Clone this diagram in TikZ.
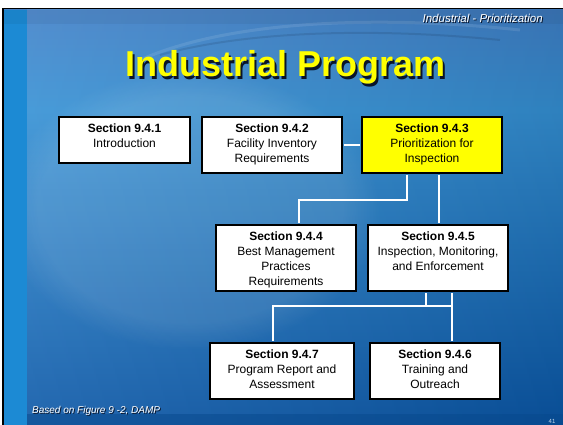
\documentclass[tikz,border=0pt]{standalone}
\usepackage{fontspec}
\setmainfont{Liberation Sans}
\usetikzlibrary{fadings}
\definecolor{bgtop}{RGB}{64,128,200}
\definecolor{bgmid}{RGB}{52,144,212}
\definecolor{bgbot}{RGB}{10,86,166}
\definecolor{leftstrip}{RGB}{28,138,212}
\definecolor{tyellow}{RGB}{255,255,0}
\definecolor{shadowc}{RGB}{10,20,40}
\begin{document}
\begin{tikzpicture}[x=1pt,y=-1pt,
  box/.style={draw=black, line width=2pt, fill=white, anchor=north west, inner sep=0pt},
  boxtxt/.style={align=center, font=\fontsize{12}{15}\selectfont, inner sep=0pt, anchor=north},
  link/.style={draw=white, line width=1.6pt},
  shadowtxt/.style={text=shadowc, inner sep=0pt}]
\useasboundingbox (0,0) rectangle (563,425);
% background
\fill[white] (0,0) rectangle (563,425);
\fill[black] (2,8) rectangle (563,425);
\shade[top color=bgtop, bottom color=bgmid] (4,10) rectangle (563,110);
\shade[top color=bgmid, bottom color=bgbot] (4,110) rectangle (563,425);
\fill[white, opacity=0.10, path fading=circle with fuzzy edge 20 percent] (190,210) ellipse [x radius=190pt, y radius=140pt];
\shade[left color=white, right color=black, opacity=0.10] (27,10) rectangle (563,425);
\fill[leftstrip] (4,10) rectangle (27,425);
\fill[bgbot!85!black, opacity=0.5] (27,414) rectangle (563,425);
\fill[shadowc, opacity=0.06] (4,10) rectangle (563,24);
\draw[white, opacity=0.10, line width=3pt] (140,60) .. controls (230,20) and (380,15) .. (520,30);
\draw[shadowc, opacity=0.12, line width=2pt] (160,55) .. controls (250,30) and (380,28) .. (500,40);
% header & footer
\node[shadowtxt, anchor=base east, font=\fontsize{11.5}{13}\selectfont\itshape] (hdrs) at (544,23.5) {Industrial - Prioritization};
\node[inner sep=0pt, text=white, anchor=base east, font=\fontsize{11.5}{13}\selectfont\itshape] (hdr) at (543,22.5) {Industrial - Prioritization};
\node[shadowtxt, anchor=base west, font=\fontsize{10}{12}\selectfont\itshape] (ftrs) at (33,414) {Based on Figure 9 -2, DAMP};
\node[inner sep=0pt, text=white, anchor=base west, font=\fontsize{10}{12}\selectfont\itshape] (ftr) at (32,413) {Based on Figure 9 -2, DAMP};
\node[inner sep=0pt, text=white!75!bgbot, anchor=base, font=\fontsize{6}{7}\selectfont] (pg) at (552,423) {41};
% title
\node[shadowtxt, anchor=base west, font=\fontsize{36}{40}\selectfont\bfseries] (ttls) at (127.5,79.5) {Industrial Program};
\node[inner sep=0pt, text=tyellow, anchor=base west, font=\fontsize{36}{40}\selectfont\bfseries] (ttl) at (125,77) {Industrial Program};
% junction coordinates
\coordinate (j1) at (407,200);
\coordinate (j2) at (299,200);
\coordinate (j3) at (439,200);
\coordinate (k1) at (426,306);
\coordinate (k2) at (452,306);
\coordinate (k3) at (273,306);
% boxes (shapes)
\node[box, minimum width=131pt, minimum height=46pt] (s1) at (58,116) {};
\node[box, minimum width=140pt, minimum height=56pt] (s2) at (201,116) {};
\node[box, fill=tyellow, minimum width=140pt, minimum height=56pt] (s3) at (361,116) {};
\node[box, minimum width=140pt, minimum height=66pt] (s4) at (215,224) {};
\node[box, minimum width=140pt, minimum height=66pt] (s5) at (367,224) {};
\node[box, minimum width=144pt, minimum height=56pt] (s7) at (209,342) {};
\node[box, minimum width=130pt, minimum height=56pt] (s6) at (369,342) {};
% connectors
\draw[link, shorten <=1pt, shorten >=1pt] (s2.east) -- (s3.west);
\draw[link, shorten <=1pt, shorten >=1pt] (s3.south -| j1) -- (j1) -- (j2) -- (s4.north -| j2);
\draw[link, shorten <=1pt, shorten >=1pt] (s3.south -| j3) -- (s5.north -| j3);
\draw[link, shorten <=1pt] (s5.south -| k1) -- (k1);
\draw[link, shorten <=1pt, shorten >=1pt] (s5.south -| k2) -- (k2) -- (s6.north -| k2);
\draw[link, shorten >=1pt] (k2) -- (k3) -- (s7.north -| k3);
% texts
\node[boxtxt] (t1) at ([yshift=-7.5pt]s1.north) {\textbf{Section 9.4.1}\\Introduction};
\node[boxtxt] (t2) at ([yshift=-7.5pt]s2.north) {\textbf{Section 9.4.2}\\Facility Inventory\\Requirements};
\node[boxtxt] (t3) at ([yshift=-7.5pt]s3.north) {\textbf{Section 9.4.3}\\Prioritization for\\Inspection};
\node[boxtxt] (t4) at ([yshift=-7.5pt]s4.north) {\textbf{Section 9.4.4}\\Best Management\\Practices\\Requirements};
\node[boxtxt] (t5) at ([yshift=-7.5pt]s5.north) {\textbf{Section 9.4.5}\\Inspection, Monitoring,\\and Enforcement};
\node[boxtxt] (t7) at ([yshift=-7.5pt]s7.north) {\textbf{Section 9.4.7}\\Program Report and\\Assessment};
\node[boxtxt] (t6) at ([yshift=-7.5pt]s6.north) {\textbf{Section 9.4.6}\\Training and\\Outreach};
\end{tikzpicture}
\end{document}
